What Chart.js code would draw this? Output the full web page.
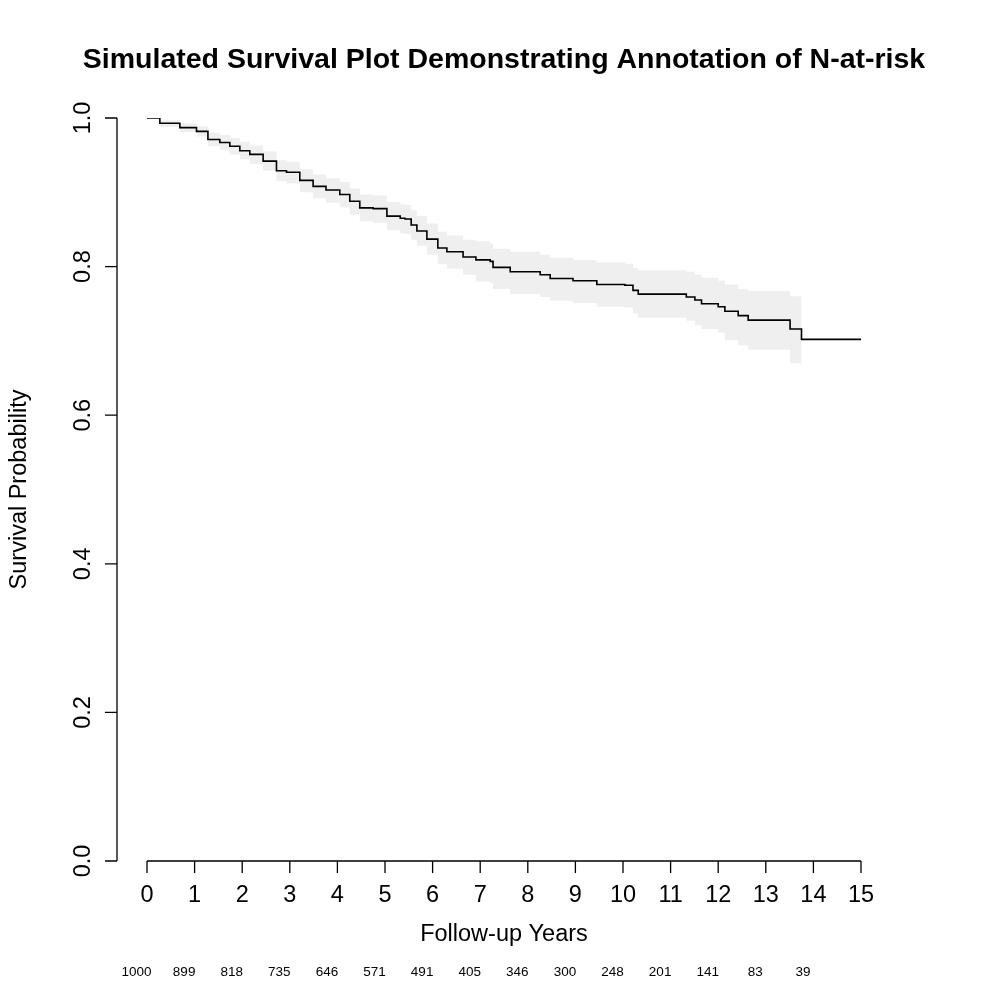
<!DOCTYPE html>
<html>
<head>
<meta charset="utf-8">
<title>Simulated Survival Plot</title>
<script src="https://cdn.jsdelivr.net/npm/chart.js@4.4.1/dist/chart.umd.min.js"></script>
<style>
  html, body { margin: 0; padding: 0; background: #ffffff; }
  #wrap { width: 1008px; height: 1008px; }
</style>
</head>
<body>
<div id="wrap"><canvas id="km" width="1008" height="1008"></canvas></div>
<script>
// Kaplan-Meier estimate (event times in years, survival after each step)
const kmTimes = [0, 0.27, 0.69, 1.04, 1.28, 1.53, 1.74, 1.95, 2.16, 2.44, 2.72, 2.93, 3.21, 3.49, 3.76,
  4.05, 4.26, 4.47, 4.75, 5.04, 5.32, 5.42, 5.55, 5.67, 5.88, 6.11, 6.30, 6.64, 6.91, 7.21, 7.27,
  7.63, 8.26, 8.47, 8.95, 9.45, 10.04, 10.21, 10.32, 11.33, 11.51, 11.65, 12.00, 12.14, 12.42,
  12.63, 13.51, 13.75, 15];
const kmSurv = [1.0, 0.993, 0.987, 0.982, 0.971, 0.967, 0.962, 0.956, 0.951, 0.942, 0.929, 0.927, 0.916, 0.908, 0.903,
  0.897, 0.888, 0.879, 0.878, 0.868, 0.865, 0.864, 0.856, 0.848, 0.837, 0.825, 0.820, 0.813, 0.809, 0.807, 0.799,
  0.793, 0.789, 0.784, 0.781, 0.776, 0.775, 0.768, 0.763, 0.759, 0.755, 0.750, 0.746, 0.740, 0.734,
  0.728, 0.716, 0.702, 0.702];

// 95% confidence band, ends at 13.75 years
const bandTimes = [0, 0.27, 0.69, 1.04, 1.28, 1.53, 1.74, 1.95, 2.16, 2.44, 2.72, 2.93, 3.21, 3.49, 3.76,
  4.05, 4.26, 4.47, 4.75, 5.04, 5.32, 5.42, 5.55, 5.67, 5.88, 6.11, 6.30, 6.64, 6.91, 7.21, 7.27,
  7.63, 8.26, 8.47, 8.95, 9.45, 10.04, 10.21, 10.32, 11.33, 11.51, 11.65, 12.00, 12.14, 12.42,
  12.63, 13.51, 13.75];
const bandUpper = [1.0, 0.997, 0.993, 0.989, 0.980, 0.977, 0.973, 0.968, 0.963, 0.955, 0.943, 0.941, 0.931, 0.924, 0.919,
  0.914, 0.905, 0.897, 0.896, 0.887, 0.884, 0.883, 0.876, 0.868, 0.858, 0.847, 0.842, 0.836, 0.834, 0.831, 0.824,
  0.820, 0.816, 0.812, 0.809, 0.806, 0.804, 0.798, 0.795, 0.793, 0.789, 0.785, 0.781, 0.776, 0.770,
  0.767, 0.760, 0.760];
const bandLower = [1.0, 0.988, 0.981, 0.975, 0.962, 0.957, 0.951, 0.944, 0.938, 0.929, 0.915, 0.912, 0.900, 0.892, 0.886,
  0.880, 0.870, 0.861, 0.859, 0.849, 0.845, 0.844, 0.836, 0.828, 0.816, 0.803, 0.797, 0.789, 0.780, 0.778, 0.770,
  0.763, 0.759, 0.754, 0.751, 0.746, 0.745, 0.737, 0.731, 0.727, 0.721, 0.716, 0.711, 0.701, 0.694,
  0.688, 0.670, 0.670];

// axis ticks and N-at-risk annotation
const xTicks = [0, 1, 2, 3, 4, 5, 6, 7, 8, 9, 10, 11, 12, 13, 14, 15];
const yTicks = [0, 0.2, 0.4, 0.6, 0.8, 1.0];
const yTickLabels = ["0.0", "0.2", "0.4", "0.6", "0.8", "1.0"];
const riskTimes = [0, 1, 2, 3, 4, 5, 6, 7, 8, 9, 10, 11, 12, 13, 14];
const nAtRisk = [1000, 899, 818, 735, 646, 571, 491, 405, 346, 300, 248, 201, 141, 83, 39];

const FONT = '"Liberation Sans", Arial, Helvetica, sans-serif';

function pts(xs, ys) {
  return xs.map((x, i) => ({ x: x, y: ys[i] }));
}

// draws R-style detached axes, labels, title and the N-at-risk row
const rAxes = {
  id: "rAxes",
  afterDraw(chart) {
    const ctx = chart.ctx;
    const xs = chart.scales.x;
    const ys = chart.scales.y;
    const area = chart.chartArea;
    const yAxisX = area.left - 30;
    const xAxisY = area.bottom;

    ctx.save();
    ctx.strokeStyle = "#000";
    ctx.fillStyle = "#000";
    ctx.lineWidth = 1.3;

    // y axis
    ctx.beginPath();
    ctx.moveTo(yAxisX, ys.getPixelForValue(0));
    ctx.lineTo(yAxisX, ys.getPixelForValue(1));
    yTicks.forEach(v => {
      const py = ys.getPixelForValue(v);
      ctx.moveTo(yAxisX, py);
      ctx.lineTo(yAxisX - 12, py);
    });
    ctx.stroke();

    ctx.font = "23.5px " + FONT;
    ctx.textAlign = "center";
    ctx.textBaseline = "middle";
    yTicks.forEach((v, i) => {
      const py = ys.getPixelForValue(v);
      ctx.save();
      ctx.translate(yAxisX - 33, py);
      ctx.rotate(-Math.PI / 2);
      ctx.fillText(yTickLabels[i], 0, 0);
      ctx.restore();
    });

    // x axis
    ctx.beginPath();
    ctx.moveTo(xs.getPixelForValue(0), xAxisY);
    ctx.lineTo(xs.getPixelForValue(15), xAxisY);
    xTicks.forEach(v => {
      const px = xs.getPixelForValue(v);
      ctx.moveTo(px, xAxisY);
      ctx.lineTo(px, xAxisY + 12);
    });
    ctx.stroke();

    xTicks.forEach(v => {
      ctx.fillText(String(v), xs.getPixelForValue(v), xAxisY + 35);
    });

    // axis titles
    ctx.fillText("Follow-up Years", (area.left + area.right) / 2, 935);
    ctx.save();
    ctx.translate(20, (area.top + area.bottom) / 2);
    ctx.rotate(-Math.PI / 2);
    ctx.fillText("Survival Probability", 0, 0);
    ctx.restore();

    // N-at-risk
    ctx.font = "13.5px " + FONT;
    riskTimes.forEach((t, i) => {
      ctx.fillText(String(nAtRisk[i]), xs.getPixelForValue(t - 0.22), 972);
    });

    // title
    ctx.font = "bold 28.5px " + FONT;
    ctx.fillText("Simulated Survival Plot Demonstrating Annotation of N-at-risk", 504, 60);
    ctx.restore();
  }
};

const chart = new Chart(document.getElementById("km"), {
  type: "line",
  data: {
    datasets: [
      {
        label: "lower",
        data: pts(bandTimes, bandLower),
        stepped: "before",
        borderWidth: 0,
        pointRadius: 0,
        fill: false,
        order: 2,
      },
      {
        label: "upper",
        data: pts(bandTimes, bandUpper),
        stepped: "before",
        borderWidth: 0,
        pointRadius: 0,
        backgroundColor: "#efefef",
        fill: "-1",
        order: 1,
      },
      {
        label: "Survival",
        data: pts(kmTimes, kmSurv),
        stepped: "before",
        borderColor: "#000000",
        borderWidth: 1.6,
        pointRadius: 0,
        fill: false,
        order: 0,
      },
    ],
  },
  options: {
    responsive: false,
    devicePixelRatio: 1,
    animation: false,
    layout: { padding: { left: 147, right: 147, top: 118, bottom: 147 } },
    plugins: {
      legend: { display: false },
      tooltip: { enabled: false },
      title: { display: false },
    },
    scales: {
      x: { type: "linear", min: 0, max: 15, display: false },
      y: { type: "linear", min: 0, max: 1, display: false },
    },
  },
  plugins: [rAxes],
});
</script>
</body>
</html>
